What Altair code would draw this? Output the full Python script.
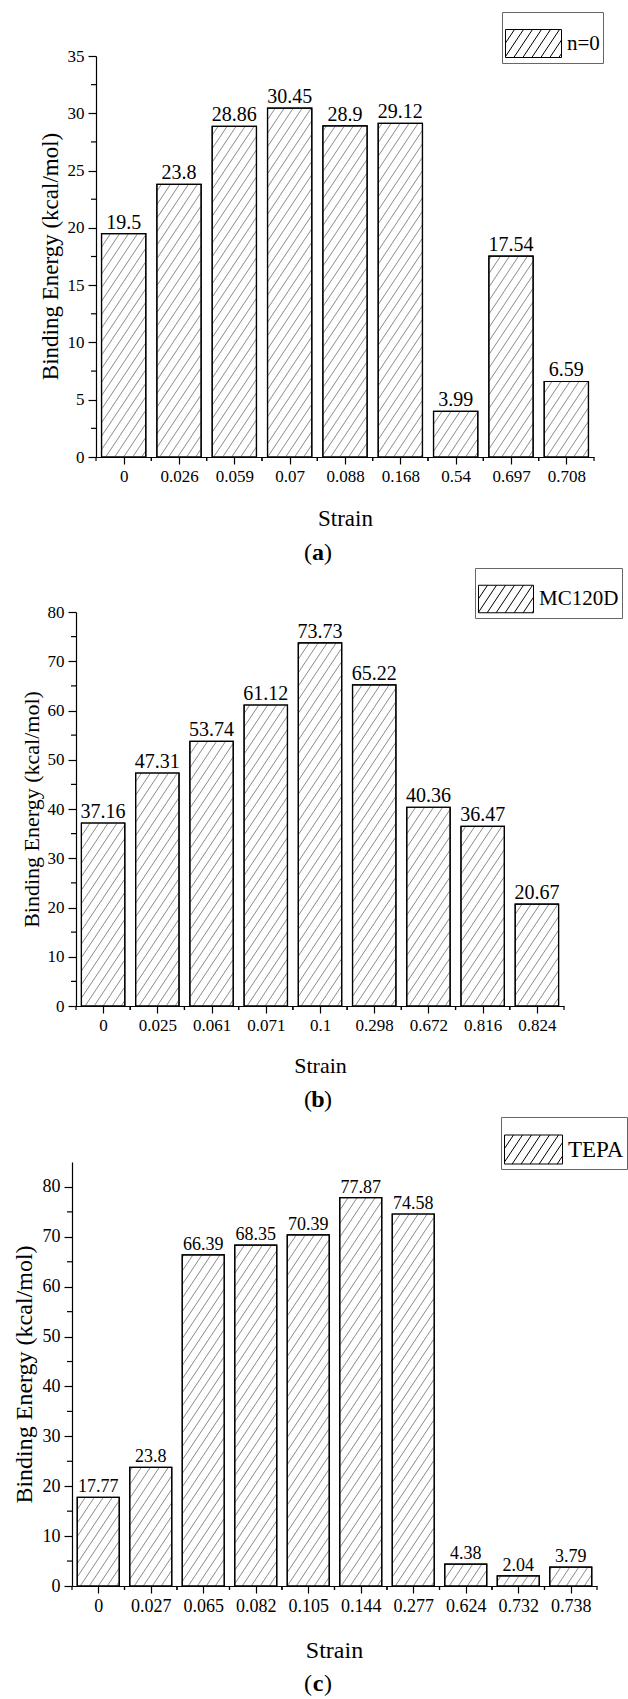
import altair as alt
import pandas as pd

FONT = "Liberation Serif"

# ---------------- data ----------------
strain_a = ["0", "0.026", "0.059", "0.07", "0.088", "0.168", "0.54", "0.697", "0.708"]
energy_a = [19.5, 23.8, 28.86, 30.45, 28.9, 29.12, 3.99, 17.54, 6.59]

strain_b = ["0", "0.025", "0.061", "0.071", "0.1", "0.298", "0.672", "0.816", "0.824"]
energy_b = [37.16, 47.31, 53.74, 61.12, 73.73, 65.22, 40.36, 36.47, 20.67]

strain_c = ["0", "0.027", "0.065", "0.082", "0.105", "0.144", "0.277", "0.624", "0.732", "0.738"]
energy_c = [17.77, 23.8, 66.39, 68.35, 70.39, 77.87, 74.58, 4.38, 2.04, 3.79]

series_names = ["n=0", "MC120D", "TEPA"]
panel_letters = ["a", "b", "c"]
y_tick_values = [list(range(0, 36, 5)), list(range(0, 81, 10)), list(range(0, 81, 10))]
y_max = [35, 80, 85]
y_minor = [(2.5, 35, 5), (5, 80, 10), (5, 85, 10)]

# ---------------- layout / style ----------------
W, H = 628, 1699
HW = 0.40        # half bar width (band units)
K_PX = 1.5       # hatch slope in pixels
S_PX = 9.0       # hatch spacing (horizontal px)

layout = [
    dict(x0=96, x1=594, ybot=457, ytop=56, ytx=50, yty=256, sx=345, sy=525, cx=318, cy=553,
         lx=502, ly=12, sw=56, tick=17, val=20, ttl=23, leg=21),
    dict(x0=76, x1=564, ybot=1006, ytop=612, ytx=31, yty=809, sx=320, sy=1072, cx=318, cy=1100,
         lx=475, ly=568, sw=55, tick=17, val=20, ttl=22, leg=21),
    dict(x0=72, x1=597, ybot=1586, ytop=1162, ytx=24, yty=1374, sx=334, sy=1657, cx=318, cy=1684,
         lx=501, ly=1117, sw=58, tick=18, val=18, ttl=24, leg=23),
]


def legend_symbol(w_px, h_px):
    """Custom SVG path: rectangle with diagonal hatch, in [-1,1] units."""
    r = w_px / 2.0
    hy = h_px / 2.0 / r
    k = K_PX
    s = S_PX / r
    parts = [f"M-1,{-hy:.3f}H1V{hy:.3f}H-1Z"]
    span = 2 * hy / k
    c = -1 - span
    while c < 1:
        xa, ya = c, hy
        if xa < -1:
            ya = hy - (-1 - c) * k
            xa = -1
        xb = c + span
        yb = -hy
        if xb > 1:
            yb = hy - (1 - c) * k
            xb = 1
        if xb - xa > 0.01:
            parts.append(f"M{xa:.3f},{ya:.3f}L{xb:.3f},{yb:.3f}")
        c += s
    return "".join(parts)


def panel(i, strains, energy):
    L = layout[i]
    n = len(strains)
    df = pd.DataFrame({
        "strain": strains,
        "energy": energy,
        "idx": list(range(n)),
        "series": series_names[i],
    })
    ux = (L["x1"] - L["x0"]) / n
    uy = (L["ybot"] - L["ytop"]) / y_max[i]
    K = K_PX * ux / uy
    S = S_PX / ux

    def xs():
        return alt.Scale(domain=[-0.5, n - 0.5], range=[L["x0"], L["x1"]], nice=False, zero=False)

    def ys():
        return alt.Scale(domain=[0, y_max[i]], range=[L["ybot"], L["ytop"]], nice=False, zero=False)

    labels_js = "[" + ",".join(f"'{s}'" for s in strains) + "]"
    xaxis = alt.Axis(
        orient="bottom", offset=L["ybot"] - H, values=list(range(n)),
        labelExpr=f"{labels_js}[datum.value]", labelFont=FONT, labelFontSize=L["tick"],
        labelColor="black", labelPadding=4, labelFlush=False, labelOverlap=False,
        tickSize=7, tickColor="black", tickWidth=1.2, domainColor="black", domainWidth=1.2,
        grid=False, title="Strain", titleFont=FONT, titleFontSize=L["ttl"], titleFontWeight="normal",
        titleColor="black", titleX=L["sx"], titleY=L["sy"] - L["ybot"], titleAlign="center",
        titleBaseline="alphabetic",
    )
    yaxis = alt.Axis(
        orient="left", offset=-L["x0"], values=y_tick_values[i],
        labelFont=FONT, labelFontSize=L["tick"], labelColor="black", labelPadding=4,
        tickSize=8, tickColor="black", tickWidth=1.2, domainColor="black", domainWidth=1.2,
        grid=False, title="Binding Energy (kcal/mol)", titleFont=FONT, titleFontSize=L["ttl"],
        titleFontWeight="normal", titleColor="black",
        titleX=L["ytx"] - L["x0"], titleY=L["yty"], titleAlign="center", titleBaseline="middle",
    )

    base = alt.Chart(df).transform_calculate(
        l=f"datum.idx - {HW}", r=f"datum.idx + {HW}", z="0"
    )

    bars = base.mark_bar(stroke="black", strokeWidth=1.2).encode(
        x=alt.X("l:Q", scale=xs(), axis=xaxis),
        x2="r:Q",
        y=alt.Y("energy:Q", scale=ys(), axis=yaxis),
        y2="z:Q",
        fill=alt.Fill(
            "series:N",
            scale=alt.Scale(range=["white"]),
            legend=alt.Legend(
                orient="none", legendX=L["lx"], legendY=L["ly"], title=None,
                symbolType=legend_symbol(L["sw"], L["sw"] / 2),
                symbolSize=L["sw"] ** 2, symbolStrokeColor="black", symbolStrokeWidth=1,
                symbolFillColor="white", labelFont=FONT, labelFontSize=L["leg"],
                labelColor="black", labelOffset=5, padding=3, strokeColor="#666",
                fillColor="white", symbolOffset=0,
            ),
        ),
    )

    hatch = alt.Chart(df).transform_calculate(
        c=f"sequence(ceil((datum.idx - {HW} - datum.energy/{K})/{S})*{S}, datum.idx + {HW}, {S})"
    ).transform_flatten(["c"]).transform_calculate(
        hx1=f"max(datum.c, datum.idx - {HW})"
    ).transform_calculate(
        hx2=f"min(datum.c + datum.energy/{K}, datum.idx + {HW})"
    ).transform_calculate(
        hy1=f"(datum.hx1 - datum.c)*{K}"
    ).transform_calculate(
        hy2=f"(datum.hx2 - datum.c)*{K}"
    ).transform_filter("datum.hx2 - datum.hx1 > 0.002").mark_rule(
        color="#3a3a3a", strokeWidth=0.6
    ).encode(
        x=alt.X("hx1:Q", scale=xs(), axis=None), x2="hx2:Q",
        y=alt.Y("hy1:Q", scale=ys(), axis=None), y2="hy2:Q",
    )

    outline = base.mark_bar(stroke="black", strokeWidth=1.2, fillOpacity=0).encode(
        x=alt.X("l:Q", scale=xs(), axis=None), x2="r:Q",
        y=alt.Y("energy:Q", scale=ys(), axis=None), y2="z:Q",
    )

    values = alt.Chart(df).mark_text(
        font=FONT, fontSize=L["val"], baseline="alphabetic", dy=-5, color="black"
    ).encode(
        x=alt.X("idx:Q", scale=xs(), axis=None),
        y=alt.Y("energy:Q", scale=ys(), axis=None),
        text=alt.Text("energy:N"),
    )

    ymin_start, ymin_stop, ymin_step = y_minor[i]
    yminor = alt.Chart(alt.sequence(ymin_start, ymin_stop, ymin_step, as_="m")).mark_rule(
        color="black", strokeWidth=1.2
    ).encode(
        y=alt.Y("m:Q", scale=ys(), axis=None), x=alt.value(L["x0"] - 5), x2=alt.value(L["x0"]),
    )

    xminor = alt.Chart(df).transform_calculate(
        lb="datum.idx - 0.5", rb="datum.idx + 0.5"
    ).transform_fold(["lb", "rb"], as_=["k", "b"]).mark_rule(
        color="black", strokeWidth=1.2
    ).encode(
        x=alt.X("b:Q", scale=xs(), axis=None), y=alt.value(L["ybot"]), y2=alt.value(L["ybot"] + 4),
    )

    cap_df = pd.DataFrame({"letter": [panel_letters[i]], "lp": ["("], "rp": [")"]})
    cap = alt.Chart(cap_df)
    cap_l = cap.mark_text(font=FONT, fontSize=24, baseline="middle", align="right", color="black").encode(
        text="lp:N", x=alt.value(L["cx"] - 6), y=alt.value(L["cy"]))
    cap_m = cap.mark_text(font=FONT, fontSize=24, baseline="middle", align="center",
                          fontWeight="bold", color="black").encode(
        text="letter:N", x=alt.value(L["cx"]), y=alt.value(L["cy"]))
    cap_r = cap.mark_text(font=FONT, fontSize=24, baseline="middle", align="left", color="black").encode(
        text="rp:N", x=alt.value(L["cx"] + 6), y=alt.value(L["cy"]))

    return [bars, hatch, outline, values, yminor, xminor, cap_l, cap_m, cap_r]


layers = panel(0, strain_a, energy_a) + panel(1, strain_b, energy_b) + panel(2, strain_c, energy_c)

chart = alt.layer(*layers).resolve_scale(
    x="independent", y="independent", fill="independent"
).resolve_axis(
    x="independent", y="independent"
).resolve_legend(
    fill="independent"
).properties(
    width=W, height=H, padding=0,
    autosize=alt.AutoSizeParams(type="none"),
    background="white",
).configure_view(stroke=None)

chart.save("out.html", embed_options={"renderer": "svg", "actions": False})
